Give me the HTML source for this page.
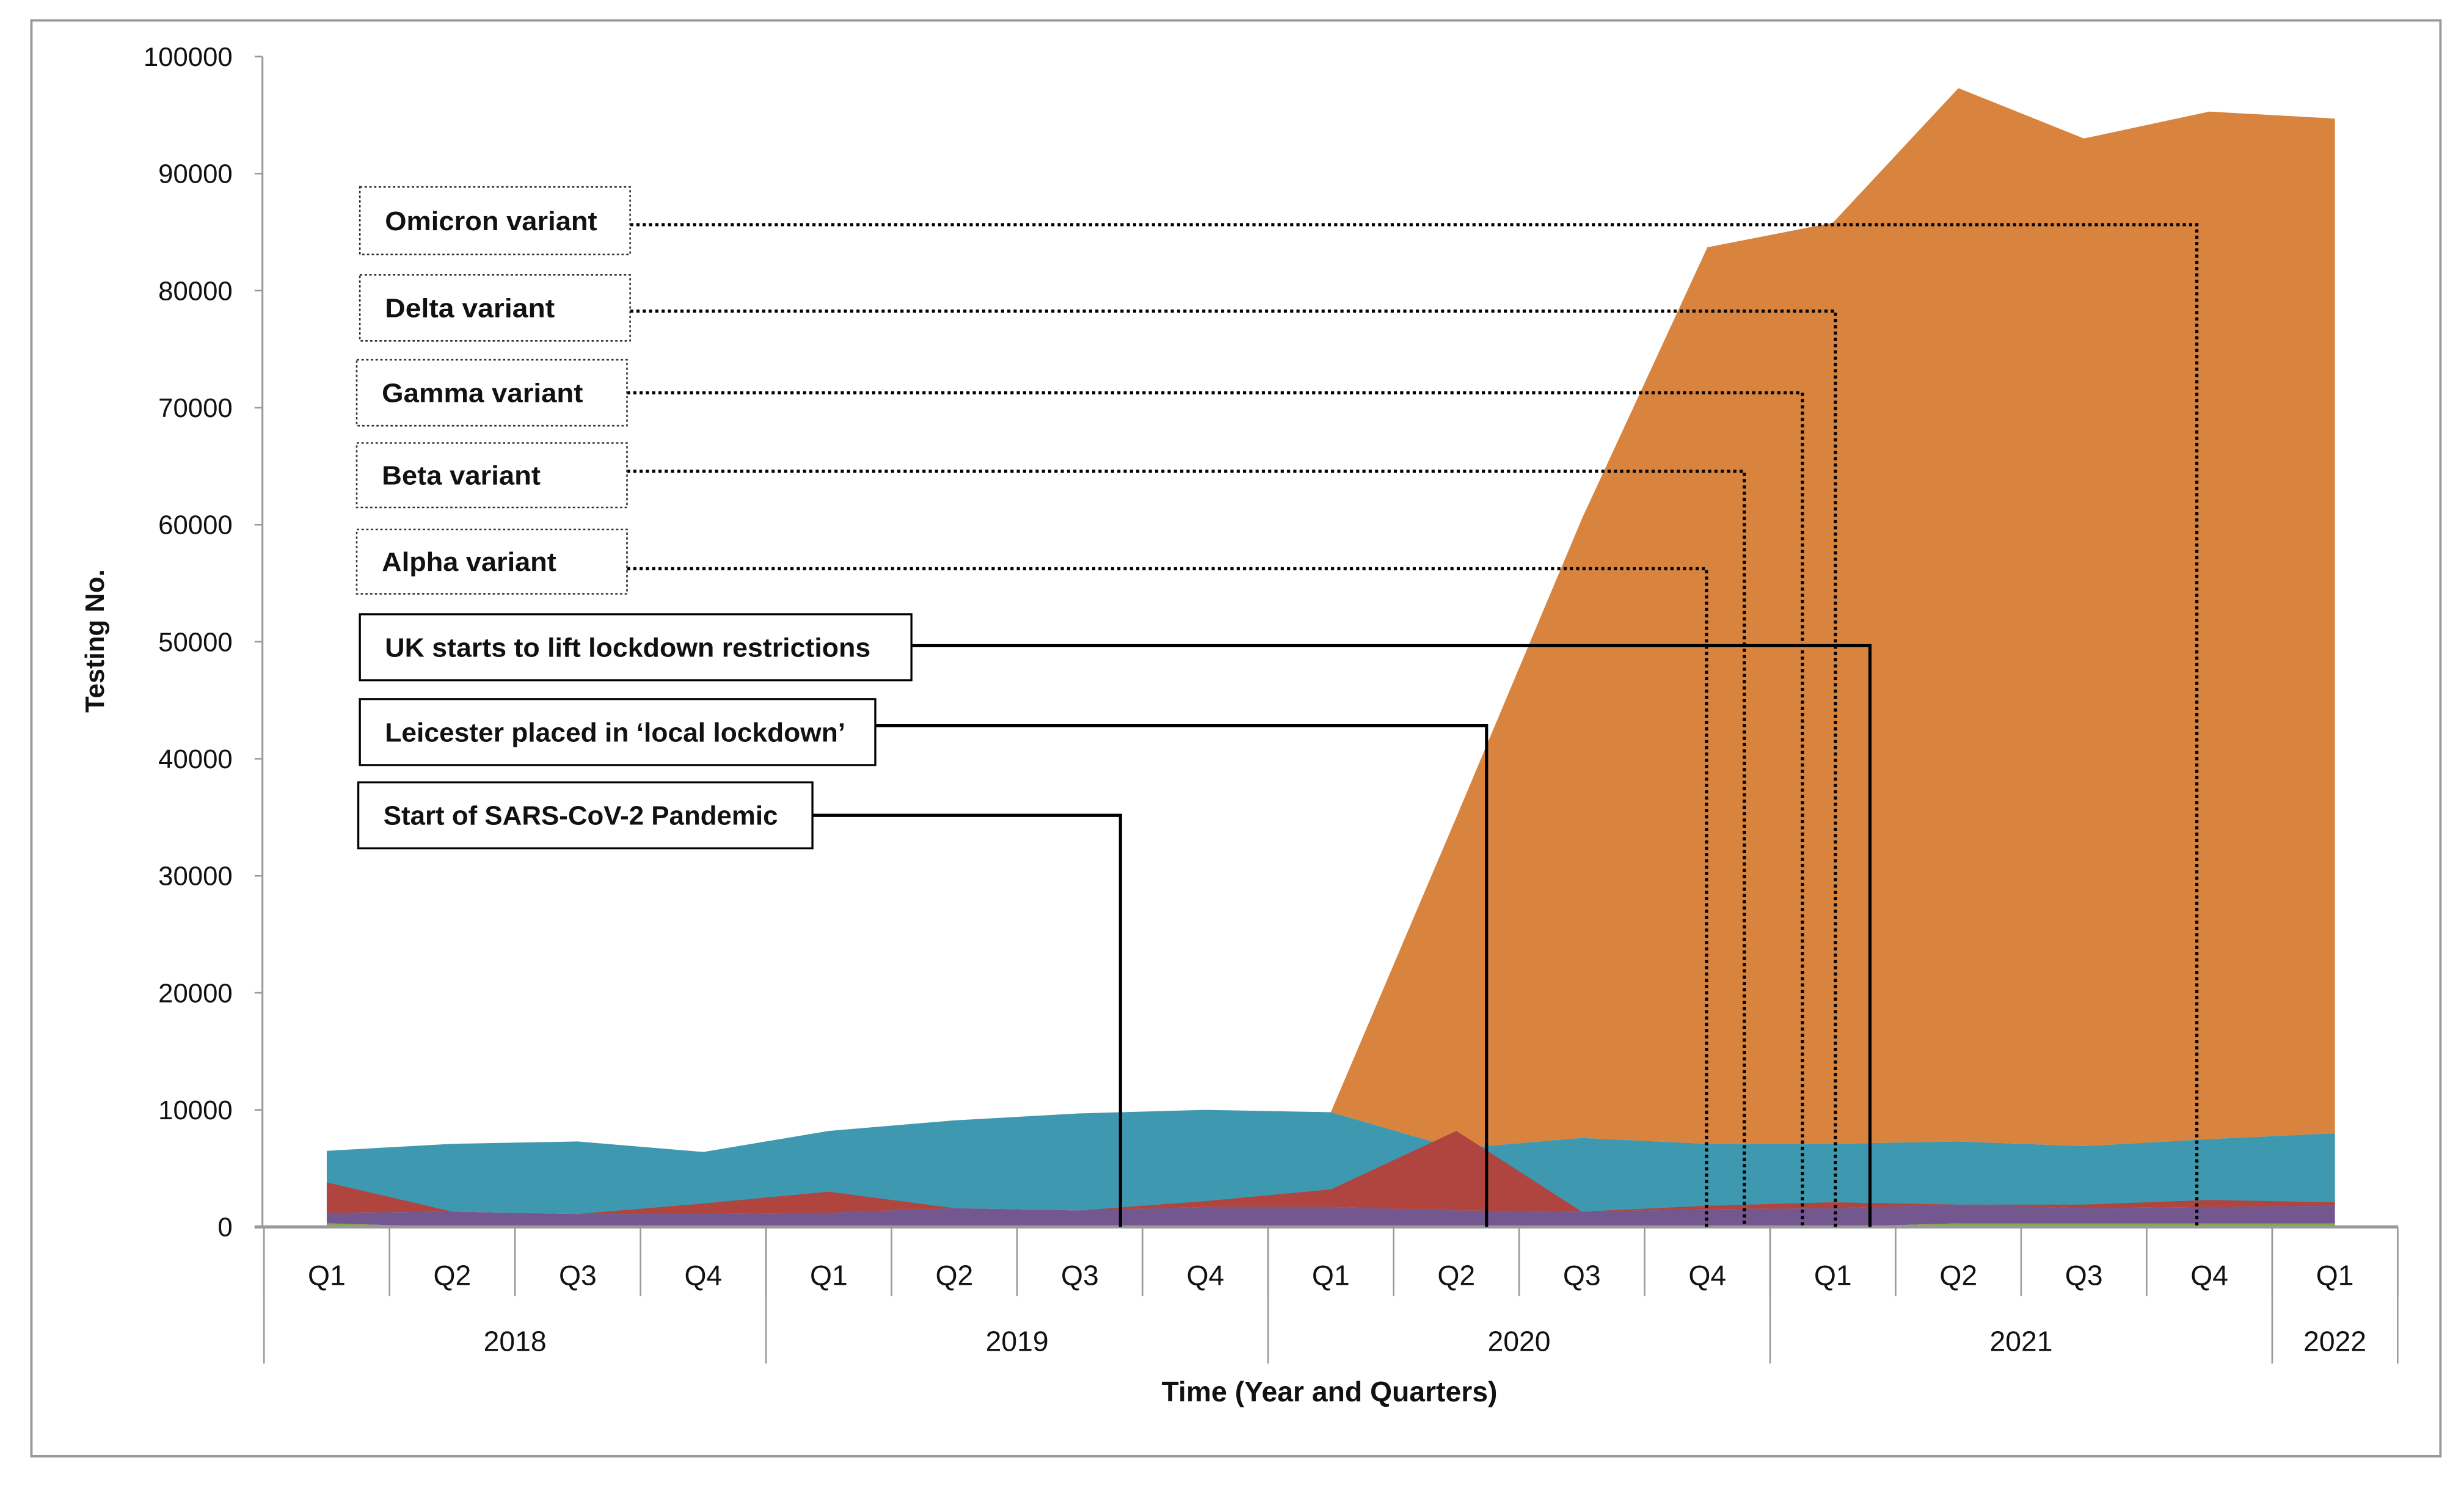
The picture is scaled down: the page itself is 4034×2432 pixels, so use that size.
<!DOCTYPE html>
<html><head><meta charset="utf-8"><style>
html,body{margin:0;padding:0;background:#fff;}
svg{display:block;}
text{font-family:"Liberation Sans",sans-serif;fill:#111;}
</style></head><body>
<svg id="chart" width="4034" height="2432" viewBox="0 0 1568 945.3" preserveAspectRatio="none" xmlns="http://www.w3.org/2000/svg">
<rect x="20" y="13" width="1533" height="914" fill="#fff" stroke="#999" stroke-width="1.5"/>
<g id="areas"></g>
<g id="axes"></g>
<g id="annots"></g>
</svg>
<script>
const categories = ["Q1","Q2","Q3","Q4","Q1","Q2","Q3","Q4","Q1","Q2","Q3","Q4","Q1","Q2","Q3","Q4","Q1"];
const years = ["2018","2019","2020","2021","2022"];
const yearSpans = [4,4,4,4,1];
const yTicks = [0,10000,20000,30000,40000,50000,60000,70000,80000,90000,100000];
const greenVals  = [300,0,0,0,0,0,0,0,0,0,0,0,0,300,300,300,300];
const purpleVals = [900,1300,1100,1100,1200,1600,1400,1700,1700,1400,1300,1500,1600,1600,1300,1400,1500];
const redVals    = [2600,0,0,900,1800,0,0,500,1500,6800,0,300,500,0,300,600,300];
const tealVals   = [5300,5800,6200,5300,7000,7500,8300,8300,8100,5300,6300,5600,5500,5400,5300,5800,6200];
const orangeVals = [0,0,0,0,0,0,0,0,0,28300,52900,76600,78700,90000,86100,87800,86700];
const seriesNames = ["green-series","purple-series","teal-series","orange-series"];

const NS="http://www.w3.org/2000/svg";
const x0=168, step=79.87, y0=781, yTop=36, yMax=100000;
const xAt=i=>x0+step*(i+0.5);
const yAt=v=>y0-(v/yMax)*(y0-yTop);
function mk(tag,attrs,parent){const e=document.createElementNS(NS,tag);for(const k in attrs)e.setAttribute(k,attrs[k]);parent.appendChild(e);return e;}
function areaPath(top,bot){
  let d="M"+xAt(0)+","+yAt(top[0]);
  top.forEach((v,i)=>{d+=" L"+xAt(i)+","+yAt(v);});
  for(let i=bot.length-1;i>=0;i--)d+=" L"+xAt(i)+","+yAt(bot[i]);
  return d+" Z";
}
const areas=document.getElementById('areas');
const zero=categories.map(()=>0);
const gTop=greenVals.map(v=>v);
const pTop=gTop.map((b,i)=>b+purpleVals[i]);
const tTop=pTop.map((b,i)=>b+tealVals[i]);
const oTop=tTop.map((b,i)=>b+orangeVals[i]);
const rTop=pTop.map((b,i)=>b+redVals[i]);
const layers=[
  [oTop,tTop,"#D9843E","orange-series"],
  [tTop,pTop,"#3E98AF","teal-series"],
  [rTop,pTop,"#B0443F","red-series"],
  [pTop,gTop,"#73578E","purple-series"],
  [gTop,zero,"#86A84A","green-series"]
];
layers.forEach(L=>{
  const p=mk('path',{d:areaPath(L[0],L[1]),fill:L[2]},areas);
  
  
});

const ax=document.getElementById('axes');
const yl=mk('line',{x1:167,y1:yTop,x2:167,y2:y0,stroke:"#999","stroke-width":1.2},ax);


yTicks.forEach(v=>{
  const tk=mk('line',{x1:162,y1:yAt(v),x2:167,y2:yAt(v),stroke:"#999","stroke-width":1},ax);
  
  
  const t=mk('text',{x:148,y:yAt(v)+6,"text-anchor":"end","font-size":17},ax);
  t.textContent=v;
  
  
});
const xl=mk('line',{x1:162,y1:y0,x2:1526,y2:y0,stroke:"#999","stroke-width":2},ax);


categories.forEach((c,i)=>{
  const t=mk('text',{x:xAt(i),y:818,"text-anchor":"middle","font-size":18},ax);
  t.textContent=c;
  
  
});
for(let i=0;i<=categories.length;i++){
  const xb=x0+step*i;
  const s=mk('line',{x1:xb,y1:y0,x2:xb,y2:825,stroke:"#999","stroke-width":1},ax);
  
  
}
let acc=0;
const ys=mk('line',{x1:x0,y1:y0,x2:x0,y2:868,stroke:"#999","stroke-width":1},ax);


years.forEach((yr,k)=>{
  const cx=x0+step*(acc+yearSpans[k]/2);
  acc+=yearSpans[k];
  const t=mk('text',{x:cx,y:860,"text-anchor":"middle","font-size":18},ax);
  t.textContent=yr;
  
  
  const s=mk('line',{x1:x0+step*acc,y1:y0,x2:x0+step*acc,y2:868,stroke:"#999","stroke-width":1},ax);
  
  
});
const xt=mk('text',{x:846,y:892,"text-anchor":"middle","font-size":18,"font-weight":"bold"},ax);
xt.textContent="Time (Year and Quarters)";


const yt=mk('text',{x:0,y:0,"text-anchor":"middle","font-size":17,"font-weight":"bold",transform:"translate(66,408) rotate(-90)"},ax);
yt.textContent="Testing No.";



const an=document.getElementById('annots');
const notes=[
 {t:"Omicron variant",x1:229,x2:401,y1:119,y2:162,ly:143,lx:1398,dot:true,n:"omicron",w:135},
 {t:"Delta variant",x1:229,x2:401,y1:175,y2:217,ly:198,lx:1168,dot:true,n:"delta",w:108},
 {t:"Gamma variant",x1:227,x2:399,y1:229,y2:271,ly:250,lx:1147,dot:true,n:"gamma",w:128},
 {t:"Beta variant",x1:227,x2:399,y1:282,y2:323,ly:300,lx:1110,dot:true,n:"beta",w:101},
 {t:"Alpha variant",x1:227,x2:399,y1:337,y2:378,ly:362,lx:1086,dot:true,n:"alpha",w:111},
 {t:"UK starts to lift lockdown restrictions",x1:229,x2:580,y1:391,y2:433,ly:411,lx:1190,dot:false,n:"uk-lift",w:309},
 {t:"Leicester placed in \u2018local lockdown\u2019",x1:229,x2:557,y1:445,y2:487,ly:462,lx:946,dot:false,n:"leicester",w:293},
 {t:"Start of SARS-CoV-2 Pandemic",x1:228,x2:517,y1:498,y2:540,ly:519,lx:713,dot:false,n:"start-pandemic",w:251}
];
notes.forEach(o=>{
  const dash=o.dot?{"stroke-dasharray":"2,2","stroke-width":2}:{"stroke-width":2};
  const ln=mk('polyline',Object.assign({points:o.x2+","+o.ly+" "+o.lx+","+o.ly+" "+o.lx+","+y0,fill:"none",stroke:"#000"},dash),an);
  
  
  const r=mk('rect',Object.assign({x:o.x1,y:o.y1,width:o.x2-o.x1,height:o.y2-o.y1,fill:"#fff",stroke:o.dot?"#333":"#000"},o.dot?{"stroke-dasharray":"1.5,1.5","stroke-width":1}:{"stroke-width":1.3}),an);
  
  
  const t=mk('text',{x:o.x1+16,y:(o.y1+o.y2)/2+6,"font-size":17,"font-weight":"bold",textLength:o.w,lengthAdjust:"spacingAndGlyphs"},an);
  t.textContent=o.t;
  
  
});
</script>
</body></html>
